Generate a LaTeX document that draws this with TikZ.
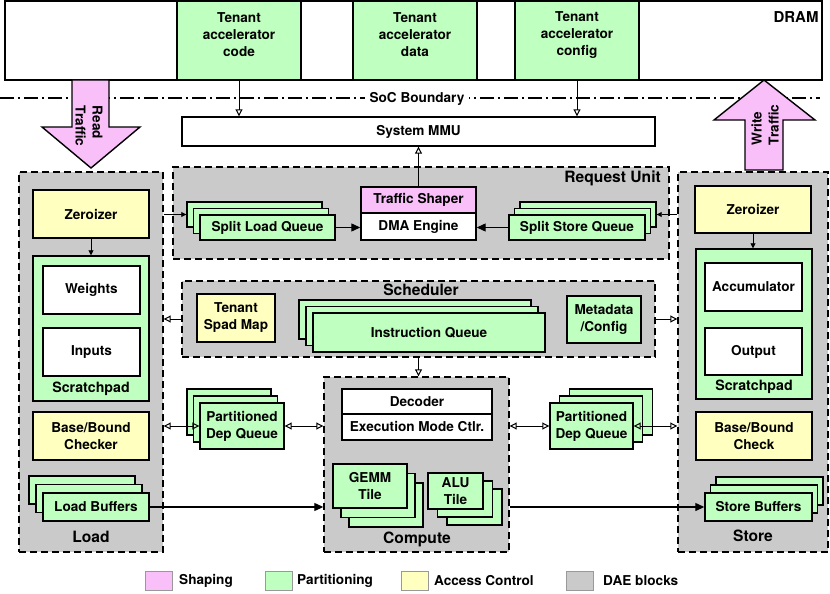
\documentclass[tikz,border=0pt]{standalone}
\usepackage{fontspec}
\setmainfont{TeX Gyre Heros}
\usetikzlibrary{arrows.meta}
\definecolor{cgreen}{HTML}{BFFFBF}
\definecolor{cpink}{HTML}{F9BFF9}
\definecolor{cyellow}{HTML}{FFFFC0}
\definecolor{cgray}{HTML}{CACACA}
\definecolor{cleg}{HTML}{999999}
\newcommand\mkbox[7]{%
  \pgfmathsetmacro\mbw{#5-#3}\pgfmathsetmacro\mbh{#6-#4}%
  \pgfmathsetmacro\mbx{(#3+#5)/2}\pgfmathsetmacro\mby{(#4+#6)/2}%
  \node[#1, minimum width=\mbw pt, minimum height=\mbh pt] (#2) at (\mbx,\mby) {#7};}
\tikzset{
  base/.style={draw=black, line width=1.4pt, inner sep=0pt, align=center},
  gbox/.style={base, fill=cgreen},
  ybox/.style={base, fill=cyellow},
  pbox/.style={base, fill=cpink},
  wbox/.style={base, fill=white},
  dae/.style={draw=black, line width=1.4pt, dash pattern=on 7pt off 4pt, fill=cgray, inner sep=0pt},
  lbl/.style={inner sep=0pt, align=center},
  biglbl/.style={lbl, font=\fontsize{15.6}{18}\selectfont\bfseries},
  midlbl/.style={lbl, font=\fontsize{14.2}{17}\selectfont\bfseries},
  oarr/.style={line width=1pt, -{Triangle[open, length=7pt, width=7pt]}},
  darr/.style={line width=1pt, {Triangle[open,length=7pt,width=7pt]}-{Triangle[open,length=7pt,width=7pt]}},
  farr/.style={line width=1.2pt, -{Triangle[length=9pt, width=8pt]}},
  sarr/.style={line width=0.8pt, -{Triangle[length=5pt,width=5pt]}},
  bigarr/.style={draw=black, line width=1.4pt, fill=cpink, line join=miter},
  socline/.style={line width=1.2pt, dash pattern=on 14pt off 4pt on 2pt off 4pt},
  leg/.style={draw=cleg, line width=1pt, minimum width=27pt, minimum height=19pt, inner sep=0pt},
}
\begin{document}
\begin{tikzpicture}[x=1pt,y=-1pt, every node/.style={font=\fontsize{13.6}{17}\selectfont\bfseries}]
\useasboundingbox (0,0) rectangle (830,594);
\path[fill=white] (0,0) rectangle (830,594);
% DRAM
\mkbox{wbox}{dram}{5}{1}{822}{80}{}
\mkbox{gbox}{code}{177}{1}{301}{80}{}
\mkbox{gbox}{data}{353}{1}{477}{80}{}
\mkbox{gbox}{cfg}{515}{1}{639}{80}{}
\node[lbl] (codet) at (239,35) {Tenant\\accelerator\\code};
\node[lbl] (datat) at (415,35) {Tenant\\accelerator\\data};
\node[lbl] (cfgt) at (577,35) {Tenant\\accelerator\\config};
\node[biglbl, font=\fontsize{15}{18}\selectfont\bfseries] (dramlbl) at (796,17) {DRAM};
% SoC boundary
\coordinate (socA) at (0,98);
\coordinate (socB) at (820,98);
\draw[socline] (socA) -- (socB);
\node[lbl, fill=white, inner xsep=5pt, inner ysep=1pt] (soc) at (417,99) {SoC Boundary};
% MMU
\mkbox{wbox}{mmu}{182}{117}{655}{146}{System MMU}
\draw[oarr] (code.south) -- (code.south |- mmu.north);
\draw[oarr] (cfg.south) -- (cfg.south |- mmu.north);
% traffic arrows
\draw[bigarr] (72,80) -- (109,80) -- (109,127) -- (140,127) -- (91,168) -- (42,127) -- (72,127) -- cycle;
\node[lbl, rotate=-90, align=left] (readt) at (89,126) {Read\\Traffic};
\draw[bigarr] (745,170) -- (783,170) -- (783,120) -- (815,120) -- (764,80) -- (714,120) -- (745,120) -- cycle;
\node[lbl, rotate=90, align=left] (writet) at (765,125) {Write\\Traffic};
% Request unit
\mkbox{dae}{ru}{173}{167}{669}{259}{}
\node[biglbl, anchor=east] (rulbl) at (661,178) {Request Unit};
\mkbox{pbox}{ts}{361}{187}{476}{213}{Traffic Shaper}
\mkbox{wbox}{dma}{361}{213}{476}{240}{DMA Engine}
\draw[oarr] (ts.north) -- (ts.north |- mmu.south);
\mkbox{gbox}{slqc}{187}{202}{322}{227}{}
\mkbox{gbox}{slqb}{193.5}{208.5}{328.5}{233.5}{}
\mkbox{gbox}{slq}{200}{215}{335}{240}{Split Load Queue}
\mkbox{gbox}{ssqc}{520}{202}{656}{227}{}
\mkbox{gbox}{ssqb}{514.5}{208.5}{650.5}{233.5}{}
\mkbox{gbox}{ssq}{509}{215}{645}{240}{Split Store Queue}
% Load
\mkbox{dae}{ld}{19}{172}{163}{552}{}
\mkbox{ybox}{zl}{33}{190}{149}{238}{Zeroizer}
\mkbox{gbox}{spl}{33}{256}{149}{401}{}
\mkbox{wbox}{wts}{43}{266}{140}{314}{Weights}
\mkbox{wbox}{inp}{43}{328}{140}{376}{Inputs}
\node[midlbl] (spllbl) at (91,389) {Scratchpad};
\mkbox{ybox}{bbl}{33}{412}{149}{460}{Base/Bound\\Checker}
\mkbox{gbox}{lbc}{29}{476}{135}{504}{}
\mkbox{gbox}{lbb}{36}{484.5}{142}{512.5}{}
\mkbox{gbox}{lb}{43}{493}{149}{521}{Load Buffers}
\node[biglbl] (ldlbl) at (91,537) {Load};
% Scheduler
\mkbox{dae}{sch}{182}{281}{655}{357}{}
\node[biglbl] (schlbl) at (421,290) {Scheduler};
\mkbox{ybox}{tsm}{197}{294}{275}{342}{Tenant\\Spad Map}
\mkbox{gbox}{iqc}{299}{300}{531}{339}{}
\mkbox{gbox}{iqb}{306}{306.5}{538}{345.5}{}
\mkbox{gbox}{iq}{313}{313}{545}{352}{Instruction Queue}
\mkbox{gbox}{meta}{567}{296}{641}{343}{Metadata\\/Config}
% Compute
\mkbox{dae}{comp}{324}{377}{509}{552}{}
\mkbox{wbox}{dec}{342}{389}{492}{414}{Decoder}
\mkbox{wbox}{emc}{342}{414}{492}{440}{Execution Mode Ctlr.}
\mkbox{gbox}{gemmc}{349}{483}{423}{527}{}
\mkbox{gbox}{gemmb}{341}{473.5}{415}{517.5}{}
\mkbox{gbox}{gemm}{333}{464}{407}{508}{GEMM\\Tile}
\mkbox{gbox}{aluc}{447}{489}{502}{525}{}
\mkbox{gbox}{alub}{437.5}{481}{492.5}{517}{}
\mkbox{gbox}{alu}{428}{473}{483}{509}{ALU\\Tile}
\node[biglbl] (complbl) at (417,539) {Compute};
% dep queues
\mkbox{gbox}{pdqlc}{187}{389}{271}{435}{}
\mkbox{gbox}{pdqlb}{193.5}{396}{277.5}{442}{}
\mkbox{gbox}{pdql}{200}{403}{284}{449}{Partitioned\\Dep Queue}
\mkbox{gbox}{pdqrc}{569.5}{389}{652.5}{435}{}
\mkbox{gbox}{pdqrb}{559.5}{396}{642.5}{442}{}
\mkbox{gbox}{pdqr}{550}{403}{633}{449}{Partitioned\\Dep Queue}
% Store
\mkbox{dae}{st}{678}{172}{828}{552}{}
\mkbox{ybox}{zs}{695}{186}{811}{233}{Zeroizer}
\mkbox{gbox}{sps}{696}{249}{812}{399}{}
\mkbox{wbox}{acc}{705}{263}{802}{311}{Accumulator}
\mkbox{wbox}{outp}{705}{328}{802}{375}{Output}
\node[midlbl] (spslbl) at (754,387) {Scratchpad};
\mkbox{ybox}{bbs}{696}{412}{812}{460}{Base/Bound\\Check}
\mkbox{gbox}{sbc}{716}{477}{823}{505}{}
\mkbox{gbox}{sbb}{710.5}{485}{817.5}{513}{}
\mkbox{gbox}{sb}{705}{493}{812}{521}{Store Buffers}
\node[biglbl] (stlbl) at (753,536) {Store};
% connectors
\draw[sarr] (slqc.west -| ld.east) -- (slqc.west);
\draw[farr] (slq.east) -- (slq.east -| dma.west);
\draw[farr] (ssq.west) -- (ssq.west -| dma.east);
\draw[sarr] (ssqc.east -| st.west) -- (ssqc.east);
\draw[sarr] (zl.south) -- (spl.north);
\draw[sarr] (zs.south) -- (zs.south |- sps.north);
\draw[oarr] (sch.west) -- (sch.west -| ld.east);
\draw[oarr] (sch.east) -- (sch.east -| st.west);
\draw[oarr] (sch.south) -- (sch.south |- comp.north);
\draw[darr] (pdql.west -| ld.east) -- (pdql.west);
\draw[darr] (pdql.east) -- (pdql.east -| comp.west);
\draw[darr] (comp.east |- pdqr.west) -- (pdqr.west);
\draw[darr] (pdqr.east) -- (pdqr.east -| st.west);
\draw[farr] (lb.east) -- (lb.east -| comp.west);
\draw[farr] (comp.east |- sb.west) -- (sb.west);
% legend
\node[leg, fill=cpink] (lg1) at (158.5,580.5) {};
\node[lbl, anchor=west] (lt1) at (179,581) {Shaping};
\node[leg, fill=cgreen] (lg2) at (278.5,580.5) {};
\node[lbl, anchor=west] (lt2) at (297,581) {Partitioning};
\node[leg, fill=cyellow] (lg3) at (414.5,580.5) {};
\node[lbl, anchor=west] (lt3) at (434,581) {Access Control};
\node[leg, fill=cgray] (lg4) at (580,580.5) {};
\node[lbl, anchor=west] (lt4) at (603,581) {DAE blocks};
\end{tikzpicture}
\end{document}
